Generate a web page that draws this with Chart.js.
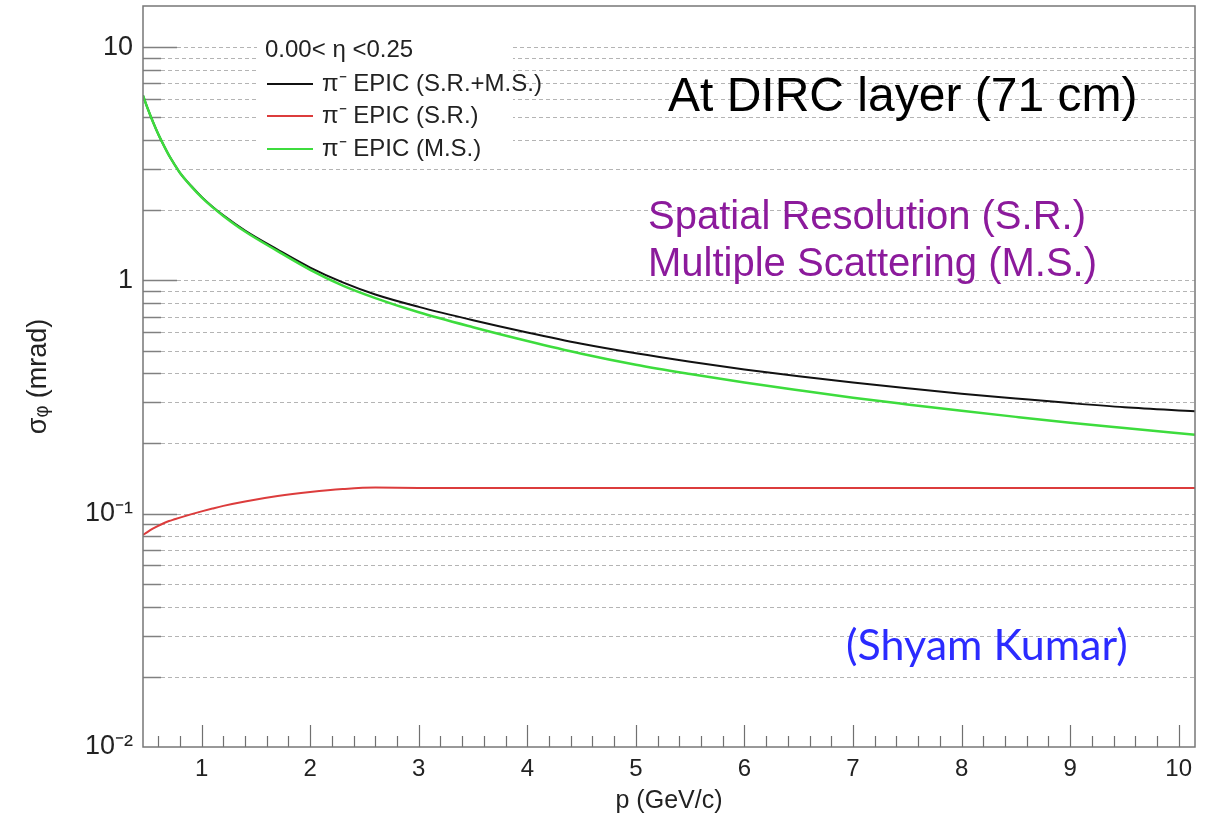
<!DOCTYPE html>
<html>
<head>
<meta charset="utf-8">
<script src="https://cdn.jsdelivr.net/npm/chart.js@4"></script>
<style>
  html, body { margin: 0; padding: 0; background: #fff; }
  #wrap { width: 1217px; height: 821px; }
</style>
</head>
<body>
<div id="wrap"><canvas id="chart"></canvas></div>
<script>
// momentum p (GeV/c)
const momentum   = [0.46, 0.5, 0.55, 0.6, 0.65, 0.7, 0.75, 0.8, 0.9, 1.0, 1.1, 1.2, 1.4, 1.7, 2.0, 2.3, 2.6, 3.0, 3.5, 4.0, 4.5, 5.0, 5.5, 6.0, 6.5, 7.0, 7.5, 8.0, 8.5, 9.0, 9.5, 10.15];
// sigma_phi (mrad)
const totalRes   = [6.2, 5.5, 4.8, 4.24, 3.8, 3.43, 3.14, 2.89, 2.55, 2.28, 2.07, 1.90, 1.635, 1.355, 1.135, 0.98, 0.87, 0.77, 0.675, 0.598, 0.535, 0.487, 0.448, 0.415, 0.388, 0.365, 0.345, 0.327, 0.312, 0.298, 0.286, 0.275];
const spatialRes = [0.081, 0.0834, 0.0862, 0.0887, 0.091, 0.093, 0.0946, 0.0962, 0.0993, 0.1023, 0.1052, 0.108, 0.1128, 0.119, 0.1238, 0.1275, 0.1295, 0.129, 0.129, 0.129, 0.129, 0.129, 0.129, 0.129, 0.129, 0.129, 0.129, 0.129, 0.129, 0.129, 0.129, 0.129];
const multScat   = [6.2, 5.5, 4.8, 4.24, 3.8, 3.43, 3.14, 2.89, 2.54, 2.27, 2.06, 1.89, 1.62, 1.335, 1.11, 0.95, 0.84, 0.73, 0.63, 0.55, 0.485, 0.435, 0.397, 0.365, 0.338, 0.314, 0.294, 0.276, 0.26, 0.2455, 0.233, 0.218];

const seriesLabels = ['π⁻ EPIC (S.R.+M.S.)', 'π⁻ EPIC (S.R.)', 'π⁻ EPIC (M.S.)'];
const legendHeader = '0.00< η <0.25';

const xTicks = [1, 2, 3, 4, 5, 6, 7, 8, 9, 10];
const yDecades = [0.01, 0.1, 1, 10];
const yTickLabels = ['10⁻²', '10⁻¹', '1', '10'];

const FONT = "'Liberation Sans', Arial, Helvetica, sans-serif";

function isMajor(v) {
    return yDecades.some(d => Math.abs(v - d) < d * 1e-6);
}

const rootFrame = {
    id: 'rootFrame',
    beforeDatasetsDraw(chart) {
        const {ctx, chartArea: a, scales: {x, y}} = chart;
        ctx.save();
        // horizontal grid + y tick marks (inside the frame)
        y.ticks.forEach(t => {
            const py = Math.round(y.getPixelForValue(t.value)) + 0.5;
            if (py <= a.top + 1 || py >= a.bottom - 1) return;
            const len = isMajor(t.value) ? 34 : 18;
            ctx.strokeStyle = '#b4b4b4';
            ctx.lineWidth = 1;
            ctx.setLineDash([4, 3]);
            ctx.beginPath();
            ctx.moveTo(a.left + len, py);
            ctx.lineTo(a.right, py);
            ctx.stroke();
            ctx.setLineDash([]);
            ctx.strokeStyle = '#808080';
            ctx.lineWidth = 1.5;
            ctx.beginPath();
            ctx.moveTo(a.left, py);
            ctx.lineTo(a.left + len, py);
            ctx.stroke();
        });
        // x tick marks, major at integers, minor every 0.2
        ctx.strokeStyle = '#707070';
        ctx.lineWidth = 1.2;
        for (let i = 3; i <= 50; i++) {
            const v = i * 0.2;
            const px = Math.round(x.getPixelForValue(v)) + 0.5;
            if (px <= a.left + 1 || px >= a.right - 1) continue;
            const len = (i % 5 === 0) ? 22 : 11;
            ctx.beginPath();
            ctx.moveTo(px, a.bottom);
            ctx.lineTo(px, a.bottom - len);
            ctx.stroke();
        }
        // legend box (white, hides the grid behind it)
        ctx.fillStyle = '#fff';
        ctx.fillRect(257, 22, 256, 136);
        ctx.restore();
    },
    afterDatasetsDraw(chart) {
        const {ctx, chartArea: a} = chart;
        ctx.save();
        // frame
        ctx.strokeStyle = '#777';
        ctx.lineWidth = 1.5;
        ctx.strokeRect(a.left, a.top, a.right - a.left, a.bottom - a.top);

        // legend
        ctx.fillStyle = '#222';
        ctx.font = '24px ' + FONT;
        ctx.textBaseline = 'middle';
        ctx.textAlign = 'left';
        ctx.fillText(legendHeader, 265, 50);
        const rows = [84, 116, 149];
        chart.data.datasets.forEach((ds, i) => {
            ctx.strokeStyle = ds.borderColor;
            ctx.lineWidth = 2;
            ctx.beginPath();
            ctx.moveTo(267, rows[i]);
            ctx.lineTo(313, rows[i]);
            ctx.stroke();
            ctx.fillStyle = '#222';
            ctx.fillText(ds.label, 322, rows[i]);
        });

        // annotations
        ctx.textBaseline = 'alphabetic';
        ctx.fillStyle = '#000';
        ctx.font = '48px ' + FONT;
        ctx.fillText('At DIRC layer (71 cm)', 668, 111);
        ctx.fillStyle = '#8c1a9c';
        ctx.font = '40px ' + FONT;
        ctx.fillText('Spatial Resolution (S.R.)', 648, 229);
        ctx.fillText('Multiple Scattering (M.S.)', 648, 276);
        ctx.fillStyle = '#2b2bff';
        ctx.font = "43px Lato, 'Open Sans', sans-serif";
        ctx.fillText('(Shyam Kumar)', 846, 660);
        ctx.restore();
    }
};

const toPoints = vals => vals.map((v, i) => ({x: momentum[i], y: v}));

new Chart(document.getElementById('chart'), {
    type: 'line',
    data: {
        datasets: [
            {
                label: seriesLabels[0],
                data: toPoints(totalRes),
                borderColor: '#111111',
                borderWidth: 2,
                order: 2
            },
            {
                label: seriesLabels[1],
                data: toPoints(spatialRes),
                borderColor: '#dc3c3c',
                borderWidth: 2,
                order: 1
            },
            {
                label: seriesLabels[2],
                data: toPoints(multScat),
                borderColor: '#3ddc3d',
                borderWidth: 2.5,
                order: 0
            }
        ]
    },
    options: {
        responsive: true,
        maintainAspectRatio: false,
        animation: false,
        devicePixelRatio: 1,
        layout: {padding: {top: 6, right: 22, left: 0, bottom: 0}},
        elements: {
            point: {radius: 0},
            line: {cubicInterpolationMode: 'monotone', fill: false}
        },
        plugins: {
            legend: {display: false},
            tooltip: {enabled: false}
        },
        scales: {
            x: {
                type: 'linear',
                min: 0.46,
                max: 10.15,
                afterBuildTicks: s => { s.ticks = xTicks.map(v => ({value: v})); },
                afterFit: s => { s.height = 74; s.paddingLeft = 0; s.paddingRight = 0; },
                grid: {display: false, drawTicks: false},
                border: {display: false},
                ticks: {
                    autoSkip: false,
                    maxRotation: 0,
                    padding: 8,
                    color: '#222',
                    font: {family: FONT, size: 24}
                },
                title: {
                    display: true,
                    text: 'p (GeV/c)',
                    color: '#222',
                    font: {family: FONT, size: 25},
                    padding: {top: 0, bottom: 5}
                }
            },
            y: {
                type: 'logarithmic',
                min: 0.01,
                max: 15,
                afterBuildTicks: s => {
                    const t = [];
                    yDecades.slice(0, -1).forEach(d => {
                        for (let m = 1; m <= 9; m++) t.push({value: m * d});
                    });
                    t.push({value: yDecades[yDecades.length - 1]});
                    s.ticks = t;
                },
                afterFit: s => { s.width = 143; s.paddingTop = 0; s.paddingBottom = 0; },
                grid: {display: false, drawTicks: false},
                border: {display: false},
                ticks: {
                    autoSkip: false,
                    padding: 10,
                    color: '#222',
                    font: {family: FONT, size: 27},
                    callback: v => {
                        const i = yDecades.findIndex(d => Math.abs(v - d) < d * 1e-6);
                        return i >= 0 ? yTickLabels[i] : '';
                    }
                },
                title: {
                    display: true,
                    text: 'σᵩ (mrad)',
                    color: '#222',
                    font: {family: FONT, size: 27},
                    padding: {top: 22, bottom: 0}
                }
            }
        }
    },
    plugins: [rootFrame]
});
</script>
</body>
</html>
